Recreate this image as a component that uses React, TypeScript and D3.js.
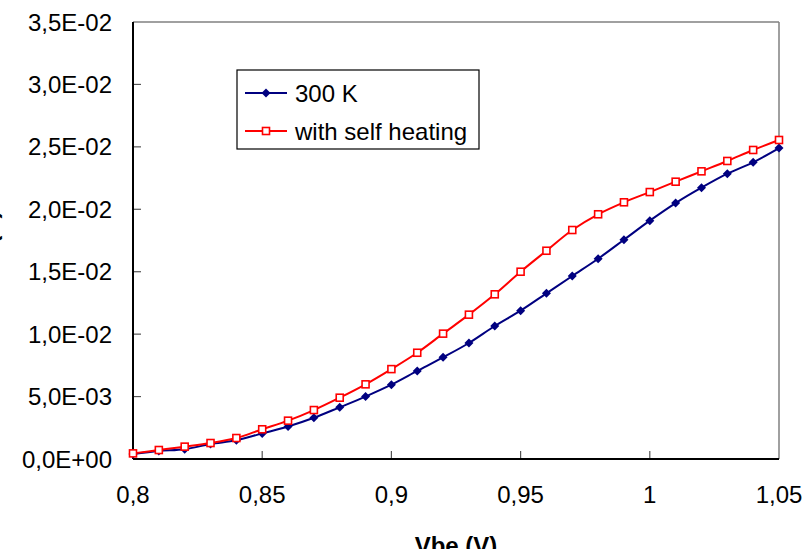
import React from 'react';
import * as d3 from 'd3';

// Vbe sweep (V)
const vbe = [0.80, 0.81, 0.82, 0.83, 0.84, 0.85, 0.86, 0.87, 0.88, 0.89, 0.90, 0.91, 0.92,
    0.93, 0.94, 0.95, 0.96, 0.97, 0.98, 0.99, 1.00, 1.01, 1.02, 1.03, 1.04, 1.05];

// collector current (A)
const ic300K = [0.0004, 0.00064, 0.00078, 0.0012, 0.0015, 0.00205, 0.0026, 0.0033, 0.00414,
    0.005, 0.00595, 0.00705, 0.00814, 0.00929, 0.01065, 0.01188, 0.01327, 0.01466, 0.01604,
    0.01756, 0.01909, 0.0205, 0.02173, 0.02285, 0.02376, 0.0249];
const icSelfHeating = [0.00045, 0.00072, 0.00099, 0.00128, 0.00168, 0.00238, 0.00307, 0.00392,
    0.00491, 0.00598, 0.0072, 0.00851, 0.01004, 0.01156, 0.01319, 0.015, 0.01668, 0.01834,
    0.0196, 0.02056, 0.02138, 0.02221, 0.02304, 0.02387, 0.02475, 0.02555];

const seriesNames = ['300 K', 'with self heating'];

const xTicks = [0.8, 0.85, 0.9, 0.95, 1.0, 1.05];
const xTickLabels = ['0,8', '0,85', '0,9', '0,95', '1', '1,05'];
const yTicks = [0, 0.005, 0.01, 0.015, 0.02, 0.025, 0.03, 0.035];
const yTickLabels = ['0,0E+00', '5,0E-03', '1,0E-02', '1,5E-02', '2,0E-02', '2,5E-02', '3,0E-02', '3,5E-02'];

const W = 806;
const H = 549;
const plot = { left: 133, right: 779, top: 22, bottom: 459 };
const FONT = 'Arial, "Liberation Sans", sans-serif';
const BLUE = '#000080';
const RED = '#FF0000';

export default function App() {
    const x = d3.scaleLinear().domain([0.8, 1.05]).range([plot.left, plot.right]);
    const y = d3.scaleLinear().domain([0, 0.035]).range([plot.bottom, plot.top]);

    const line = d3.line<number>()
        .x((_, i) => x(vbe[i]))
        .y(d => y(d))
        .curve(d3.curveCatmullRom.alpha(0.5));

    const diamond = (cx: number, cy: number, r: number) =>
        `M${cx},${cy - r}L${cx + r},${cy}L${cx},${cy + r}L${cx - r},${cy}Z`;

    const legend = { x: 237, y: 70, w: 242, h: 79 };
    const legendRows = [93, 131];

    return (
        <svg
            width={W}
            height={H}
            style={{ position: 'absolute', left: 0, top: 0, display: 'block', overflow: 'hidden', background: '#fff' }}
            fontFamily={FONT}
        >
            {/* plot frame: gray top/right, black axes */}
            <line x1={plot.left} x2={plot.right} y1={plot.top} y2={plot.top} stroke="#808080" strokeWidth={1.5} />
            <line x1={plot.right} x2={plot.right} y1={plot.top} y2={plot.bottom} stroke="#808080" strokeWidth={1.5} />

            {/* ticks, pointing inward */}
            {yTicks.slice(1, -1).map(t => (
                <line key={'yt' + t} x1={plot.left} x2={plot.left + 8} y1={y(t)} y2={y(t)} stroke="#555" strokeWidth={1.2} />
            ))}
            {xTicks.slice(1, -1).map(t => (
                <line key={'xt' + t} x1={x(t)} x2={x(t)} y1={plot.bottom} y2={plot.bottom - 8} stroke="#555" strokeWidth={1.2} />
            ))}

            <line x1={plot.left} x2={plot.left} y1={plot.top} y2={plot.bottom} stroke="#000" strokeWidth={2} />
            <line x1={plot.left} x2={plot.right} y1={plot.bottom} y2={plot.bottom} stroke="#000" strokeWidth={2} />

            {/* tick labels */}
            {yTicks.map((t, i) => (
                <text key={'yl' + t} x={112} y={y(t)} dy="0.36em" textAnchor="end" fontSize={24} fill="#000">
                    {yTickLabels[i]}
                </text>
            ))}
            {xTicks.map((t, i) => (
                <text key={'xl' + t} x={x(t)} y={503} textAnchor="middle" fontSize={24} fill="#000">
                    {xTickLabels[i]}
                </text>
            ))}

            {/* axis titles */}
            <text x={(plot.left + plot.right) / 2} y={554} textAnchor="middle" fontSize={24} fontWeight="bold">
                Vbe (V)
            </text>
            <text
                transform={`translate(-3, ${(plot.top + plot.bottom) / 2}) rotate(-90)`}
                textAnchor="middle"
                fontSize={24}
                fontWeight="bold"
            >
                Ic (A)
            </text>

            {/* series */}
            <path d={line(ic300K) || ''} fill="none" stroke={BLUE} strokeWidth={2} />
            {ic300K.map((v, i) => (
                <path key={'b' + i} d={diamond(x(vbe[i]), y(v), 4.5)} fill={BLUE} />
            ))}
            <path d={line(icSelfHeating) || ''} fill="none" stroke={RED} strokeWidth={2} />
            {icSelfHeating.map((v, i) => (
                <rect key={'r' + i} x={x(vbe[i]) - 3.5} y={y(v) - 3.5} width={7} height={7}
                    fill="#fff" stroke={RED} strokeWidth={1.6} />
            ))}

            {/* legend */}
            <rect x={legend.x} y={legend.y} width={legend.w} height={legend.h} fill="#fff" stroke="#000" strokeWidth={1.2} />
            {seriesNames.map((name, i) => {
                const ly = legendRows[i];
                const color = i === 0 ? BLUE : RED;
                return (
                    <g key={name}>
                        <line x1={245} x2={287} y1={ly} y2={ly} stroke={color} strokeWidth={2} />
                        {i === 0
                            ? <path d={diamond(266, ly, 4.5)} fill={BLUE} />
                            : <rect x={262.5} y={ly - 3.5} width={7} height={7} fill="#fff" stroke={RED} strokeWidth={1.6} />}
                        <text x={295} y={ly} dy="0.36em" fontSize={24} fill="#000">{name}</text>
                    </g>
                );
            })}
        </svg>
    );
}
